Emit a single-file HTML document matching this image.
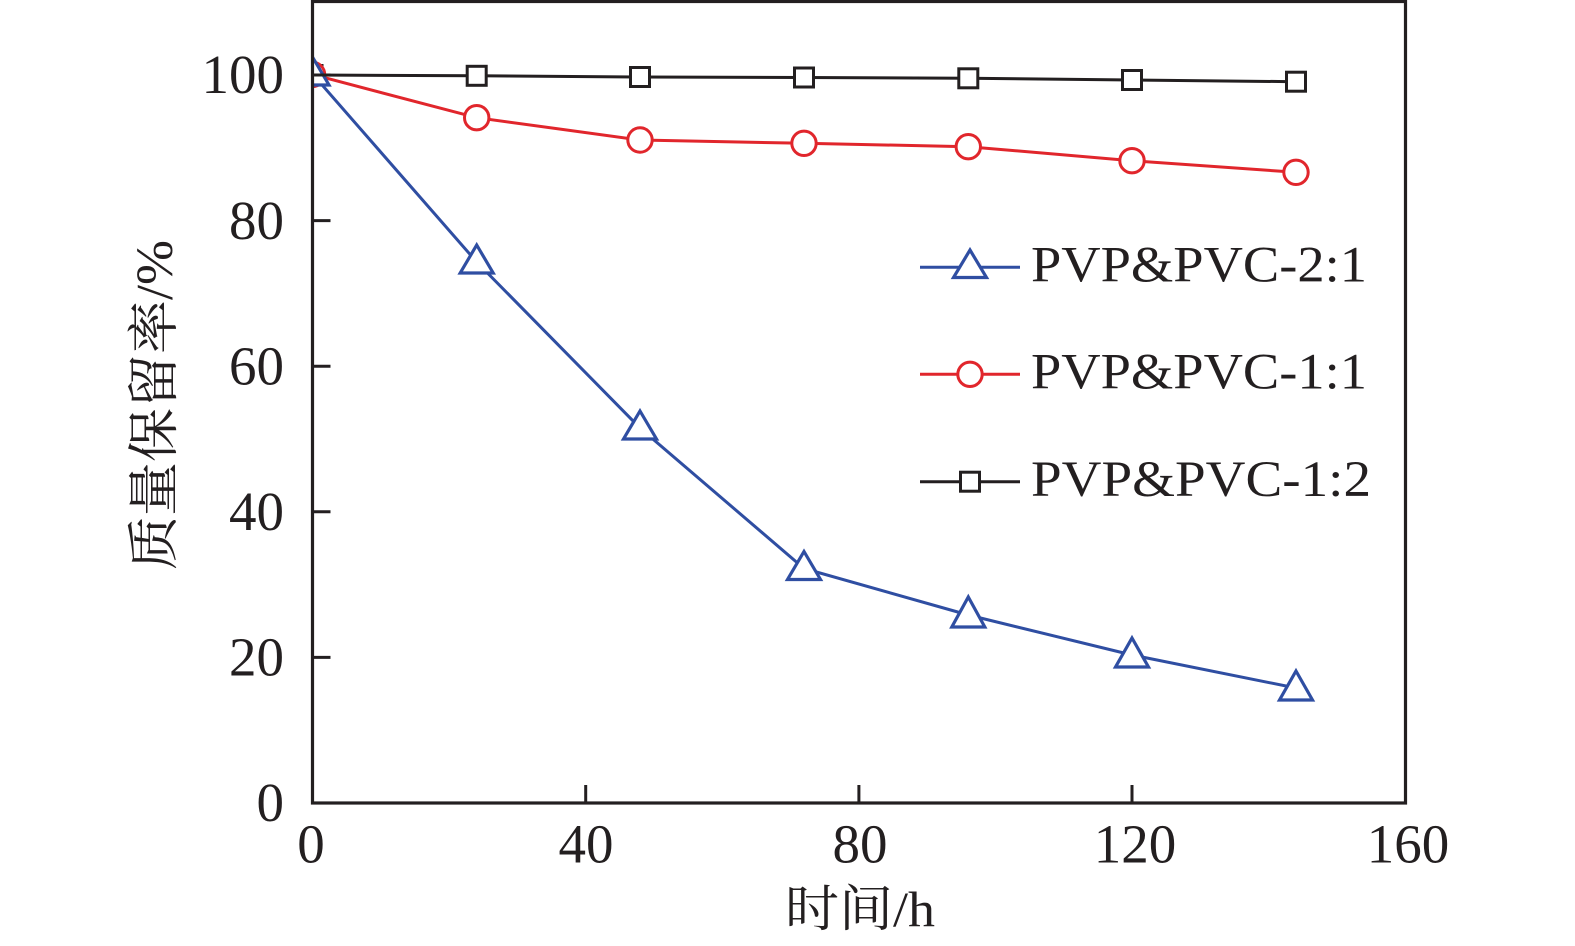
<!DOCTYPE html>
<html>
<head>
<meta charset="utf-8">
<style>
  html, body { margin:0; padding:0; background:#fff; }
  svg { display:block; }
  text { fill:#231f20; }
  .lat { font-family: "Liberation Serif", serif; }
  .cjk { font-family: "Liberation Serif", "Noto Serif CJK SC", serif; }
</style>
</head>
<body>
<svg width="1575" height="946" viewBox="0 0 1575 946" xmlns="http://www.w3.org/2000/svg">
  <defs>
    <clipPath id="plot">
      <rect x="312.5" y="1.5" width="1093" height="801.5"/>
    </clipPath>
  </defs>

  <!-- series -->
  <g clip-path="url(#plot)" fill="none">
    <!-- black 1:2 -->
    <polyline points="312.5,75 476.7,75.8 640,77 804,77.5 968.3,78.3 1132,80 1296,81.7" stroke="#231f20" stroke-width="3"/>
    <g stroke="#231f20" stroke-width="3" fill="#fff">
      <rect x="303" y="65.5" width="19" height="19"/>
      <rect x="467.2" y="66.3" width="19" height="19"/>
      <rect x="630.5" y="67.5" width="19" height="19"/>
      <rect x="794.5" y="68" width="19" height="19"/>
      <rect x="958.8" y="68.8" width="19" height="19"/>
      <rect x="1122.5" y="70.5" width="19" height="19"/>
      <rect x="1286.5" y="72.2" width="19" height="19"/>
    </g>
    <!-- red 1:1 -->
    <polyline points="312.5,74.5 476.7,117.7 640,140 804,143.3 968.3,146.7 1132,160.7 1296,172.3" stroke="#e1262c" stroke-width="3"/>
    <g stroke="#e1262c" stroke-width="3" fill="#fff">
      <circle cx="312.5" cy="74.5" r="12.2"/>
      <circle cx="476.7" cy="117.7" r="12.2"/>
      <circle cx="640" cy="140" r="12.2"/>
      <circle cx="804" cy="143.3" r="12.2"/>
      <circle cx="968.3" cy="146.7" r="12.2"/>
      <circle cx="1132" cy="160.7" r="12.2"/>
      <circle cx="1296" cy="172.3" r="12.2"/>
    </g>
    <!-- blue 2:1 -->
    <polyline points="312.5,74 476.7,262 640,428 804,568.5 968.3,615 1132,655 1296,688" stroke="#2f4ea2" stroke-width="3"/>
    <g stroke="#2f4ea2" stroke-width="3.2" fill="#fff" stroke-linejoin="miter">
      <polygon points="312.5,57 329,85 296,85"/>
      <polygon points="476.7,245 493.2,273 460.2,273"/>
      <polygon points="640,411 656.5,439 623.5,439"/>
      <polygon points="804,551.5 820.5,579.5 787.5,579.5"/>
      <polygon points="968.3,597 984.8,627 951.8,627"/>
      <polygon points="1132,638 1148.5,667 1115.5,667"/>
      <polygon points="1296,671 1312.5,700 1279.5,700"/>
    </g>
  </g>

  <!-- axes frame -->
  <rect x="312.5" y="1.5" width="1093" height="801.5" fill="none" stroke="#231f20" stroke-width="3.2"/>

  <!-- ticks -->
  <g stroke="#231f20" stroke-width="3">
    <line x1="312.5" y1="657.4" x2="330.5" y2="657.4"/>
    <line x1="312.5" y1="511.8" x2="330.5" y2="511.8"/>
    <line x1="312.5" y1="366.2" x2="330.5" y2="366.2"/>
    <line x1="312.5" y1="220.6" x2="330.5" y2="220.6"/>
    <line x1="312.5" y1="75" x2="330.5" y2="75"/>
    <line x1="585.7" y1="803" x2="585.7" y2="785"/>
    <line x1="858.9" y1="803" x2="858.9" y2="785"/>
    <line x1="1132" y1="803" x2="1132" y2="785"/>
  </g>

  <!-- y tick labels -->
  <g class="lat" font-size="55" text-anchor="end">
    <text x="284" y="821">0</text>
    <text x="284" y="675.5">20</text>
    <text x="284" y="530">40</text>
    <text x="284" y="384.5">60</text>
    <text x="284" y="239">80</text>
    <text x="284" y="93">100</text>
  </g>

  <!-- x tick labels -->
  <g class="lat" font-size="55" text-anchor="middle">
    <text x="311" y="862.5">0</text>
    <text x="586" y="862.5">40</text>
    <text x="860" y="862.5">80</text>
    <text x="1135" y="862.5">120</text>
    <text x="1408" y="862.5">160</text>
  </g>

  <!-- axis titles -->
  <text class="cjk" x="860" y="926" font-size="50" text-anchor="middle" textLength="150" lengthAdjust="spacingAndGlyphs">时间/h</text>
  <text class="cjk" transform="translate(172,405) rotate(-90)" font-size="52" text-anchor="middle" textLength="330" lengthAdjust="spacingAndGlyphs">质量保留率/%</text>

  <!-- legend -->
  <g>
    <line x1="920" y1="267.3" x2="1020" y2="267.3" stroke="#2f4ea2" stroke-width="3"/>
    <polygon points="970,250 986.5,277.5 953.5,277.5" fill="#fff" stroke="#2f4ea2" stroke-width="3.2"/>
    <line x1="920" y1="374.3" x2="1020" y2="374.3" stroke="#e1262c" stroke-width="3"/>
    <circle cx="970" cy="374.3" r="12.2" fill="#fff" stroke="#e1262c" stroke-width="3"/>
    <line x1="920" y1="481.7" x2="1020" y2="481.7" stroke="#231f20" stroke-width="3"/>
    <rect x="960.5" y="472.2" width="19" height="19" fill="#fff" stroke="#231f20" stroke-width="3"/>
  </g>
  <g class="lat" font-size="51">
    <text x="1031" y="281.7" textLength="336" lengthAdjust="spacingAndGlyphs">PVP&amp;PVC-2:1</text>
    <text x="1031" y="388.3" textLength="336" lengthAdjust="spacingAndGlyphs">PVP&amp;PVC-1:1</text>
    <text x="1031" y="496" textLength="340" lengthAdjust="spacingAndGlyphs">PVP&amp;PVC-1:2</text>
  </g>
</svg>
</body>
</html>
